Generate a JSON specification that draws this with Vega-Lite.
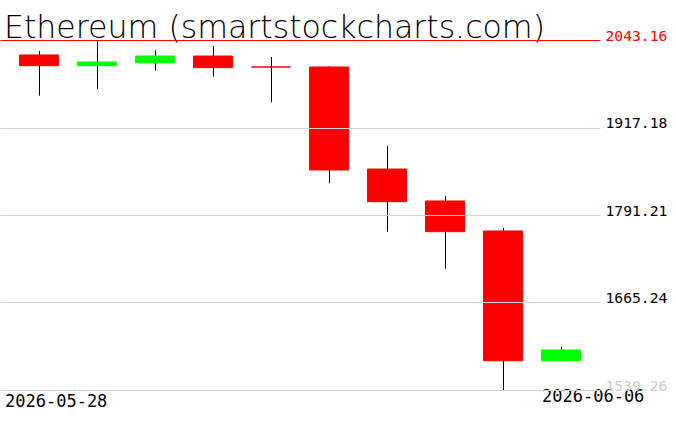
{
  "$schema": "https://vega.github.io/schema/vega-lite/v6.json",
  "width": 600,
  "height": 350,
  "autosize": {"type": "none"},
  "padding": {"left": 0, "top": 40, "right": 76, "bottom": 41},
  "background": "white",
  "config": {"view": {"stroke": null}},
  "title": {
    "text": "Ethereum (smartstockcharts.com)",
    "anchor": "start",
    "frame": "group",
    "orient": "top",
    "offset": 0,
    "baseline": "alphabetic",
    "font": "DejaVu Sans",
    "fontWeight": 200,
    "fontSize": 31.6,
    "color": "black",
    "dx": 4,
    "dy": 42
  },
  "data": {
    "values": [
      {"date": "2026-05-28", "open": 2021.6, "high": 2027.3, "low": 1963.0, "close": 2006.2},
      {"date": "2026-05-29", "open": 2006.2, "high": 2043.16, "low": 1972.6, "close": 2011.5},
      {"date": "2026-05-30", "open": 2010.5, "high": 2028.8, "low": 1999.0, "close": 2020.1},
      {"date": "2026-05-31", "open": 2020.1, "high": 2034.5, "low": 1990.4, "close": 2003.3},
      {"date": "2026-06-01", "open": 2004.4, "high": 2018.7, "low": 1953.5, "close": 2004.2},
      {"date": "2026-06-02", "open": 2004.3, "high": 2005.7, "low": 1836.9, "close": 1856.0},
      {"date": "2026-06-03", "open": 1857.4, "high": 1890.6, "low": 1767.2, "close": 1810.4},
      {"date": "2026-06-04", "open": 1811.4, "high": 1818.6, "low": 1713.9, "close": 1767.2},
      {"date": "2026-06-05", "open": 1768.2, "high": 1772.5, "low": 1539.26, "close": 1581.4},
      {"date": "2026-06-06", "open": 1581.4, "high": 1601.2, "low": 1581.0, "close": 1596.9}
    ]
  },
  "encoding": {
    "x": {
      "field": "date",
      "type": "ordinal",
      "scale": {"paddingInner": 0, "paddingOuter": 0.1724},
      "axis": {
        "title": null,
        "domain": false,
        "ticks": false,
        "grid": false,
        "labelAngle": 0,
        "labelExpr": "(datum.value == '2026-05-28' || datum.value == '2026-06-06') ? datum.value : ''",
        "labelAlign": "left",
        "labelBaseline": "alphabetic",
        "labelFont": "DejaVu Sans Mono",
        "labelFontSize": 17,
        "labelColor": "black",
        "labelOffset": {"condition": {"test": "datum.value == '2026-05-28'", "value": -34}, "value": -19},
        "labelPadding": {"condition": {"test": "datum.value == '2026-05-28'", "value": 16}, "value": 11},
        "labelOverlap": false,
        "labelBound": false,
        "labelFlush": false
      }
    }
  },
  "layer": [
    {
      "mark": {"type": "rule", "color": "black", "strokeWidth": 1, "xOffset": 0.5},
      "encoding": {
        "y": {
          "field": "low",
          "type": "quantitative",
          "scale": {"domain": [1539.26, 2043.16], "nice": false, "zero": false},
          "axis": {
            "title": null,
            "orient": "right",
            "values": [1539.26, 1665.24, 1791.21, 1917.18, 2043.16],
            "format": ".2f",
            "domain": false,
            "ticks": false,
            "grid": true,
            "gridColor": {"condition": {"test": "datum.value > 2043", "value": "#ff0000"}, "value": "#d3d3d3"},
            "gridWidth": 1,
            "zindex": 1,
            "labelPadding": 5,
            "labelBaseline": "alphabetic",
            "labelFont": "DejaVu Sans Mono",
            "labelFontSize": 14.7,
            "labelColor": {
              "condition": [
                {"test": "datum.value < 1540", "value": "#cccccc"},
                {"test": "datum.value > 2043", "value": "#ff0000"}
              ],
              "value": "black"
            },
            "labelOverlap": false,
            "labelFlush": false,
            "labelBound": false
          }
        },
        "y2": {"field": "high"}
      }
    },
    {
      "mark": {"type": "bar", "width": 39, "strokeWidth": 1},
      "encoding": {
        "y": {"field": "open", "type": "quantitative"},
        "y2": {"field": "close"},
        "color": {
          "condition": {"test": "datum.close >= datum.open", "value": "#00ff00"},
          "value": "#ff0000"
        },
        "stroke": {
          "condition": {"test": "datum.close >= datum.open", "value": "#00ff00"},
          "value": "#ff0000"
        }
      }
    }
  ]
}
